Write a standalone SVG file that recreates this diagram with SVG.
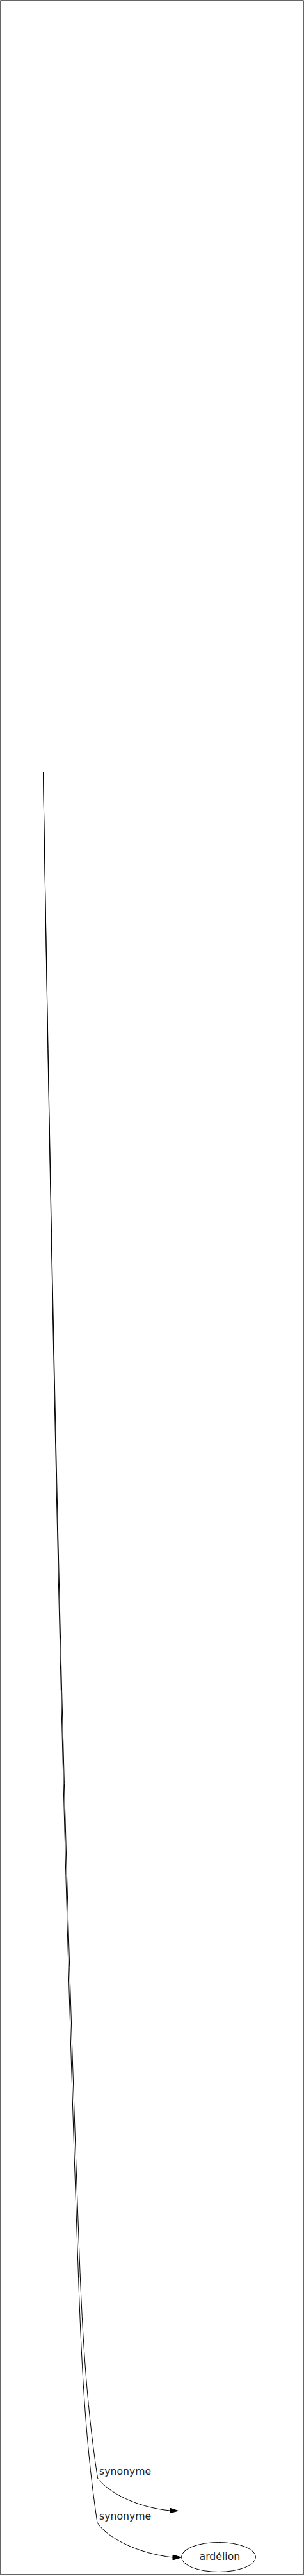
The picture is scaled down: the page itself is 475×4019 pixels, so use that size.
<svg xmlns="http://www.w3.org/2000/svg" width="475" height="4019" viewBox="0 0 475 4019">
<style>
.edge{fill:none;stroke:#000;stroke-width:1}
.head{fill:#000;stroke:#000;stroke-width:1}
.lbl{font-family:"DejaVu Sans",Verdana,sans-serif;font-size:15.7px;fill:#222}
.node{fill:#fff;stroke:#000;stroke-width:1}
</style>
<rect x="1" y="1" width="473" height="4016" fill="#fff" stroke="#000" stroke-width="1.2"/>
<g id="connectors">
<g id="edge1">
<path class="edge" d="M67.5,1205 C80.5,1970 95,2735 123.3,3500 C127.8,3622 133.7,3744 152.5,3866 C170,3890 215,3912 265.7,3917"/>
<polygon class="head" points="265.7,3913.3 278.3,3917.3 265.7,3920.7"/>
<text class="lbl" x="155" y="3861">synonyme</text>
</g>
<g id="edge2">
<path class="edge" d="M67.5,1205 C80,1970 94,2735 120.7,3500 C125.8,3645 130.2,3791 152,3936 C170,3962 218,3984 270,3990"/>
<polygon class="head" points="270,3986 283.3,3990 270,3994"/>
<text class="lbl" x="155" y="3931">synonyme</text>
</g>
</g>
<g id="node-ardelion">
<ellipse class="node" cx="341.5" cy="3989.5" rx="58" ry="23"/>
<text class="lbl" x="343.4" y="3993.5" text-anchor="middle">ardélion</text>
</g>
</svg>
